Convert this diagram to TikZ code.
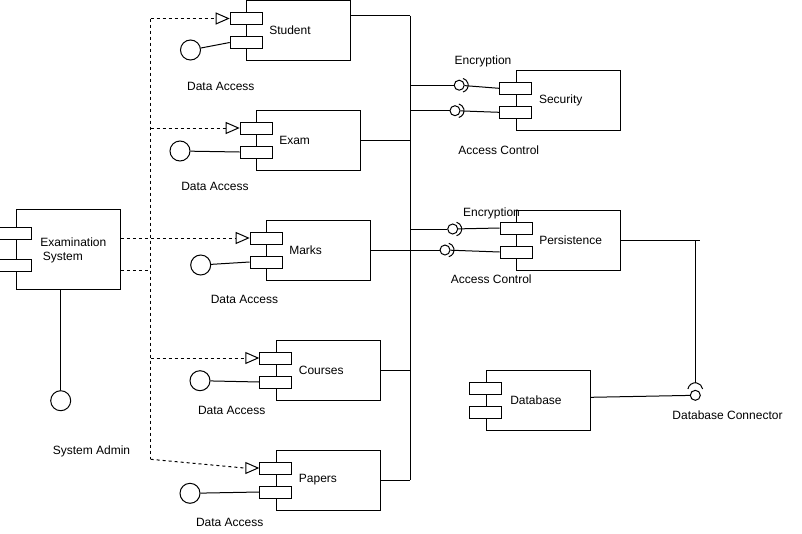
\documentclass[tikz,border=0pt]{standalone}
\usepackage{fontspec}
\setmainfont{Liberation Sans}
\usetikzlibrary{arrows.meta}
\begin{document}
\begin{tikzpicture}[x=1pt,y=1pt,line width=1pt,
  every node/.style={font=\fontsize{12}{14}\selectfont},
  comp/.style={draw,fill=white,minimum width=104pt,minimum height=60pt,inner sep=0pt},
  port/.style={draw,fill=white,minimum width=32pt,minimum height=12pt,inner sep=0pt},
  iface/.style={draw,circle,minimum size=20pt,inner sep=0pt},
  ball/.style={draw,circle,fill=white,minimum size=10pt,inner sep=0pt},
  txt/.style={inner sep=0pt},
  cname/.style={inner sep=0pt,anchor=west},
  dashline/.style={dash pattern=on 3pt off 3pt},
  dep/.style={dashline,-{Triangle[open,length=14pt,width=12pt]}},
]
\useasboundingbox (0,0) rectangle (802,-533);

% components
\node[comp] (stu) at (298.7,-30.5) {};
\node[comp] (exm) at (308.7,-140) {};
\node[comp] (mrk) at (318.7,-250) {};
\node[comp] (crs) at (328.3,-370) {};
\node[comp] (pap) at (328.3,-480) {};
\node[comp] (sec) at (568,-100.3) {};
\node[comp] (per) at (568.7,-240) {};
\node[comp] (dbs) at (538.3,-400) {};
\node[comp,minimum height=80pt] (es) at (68.3,-249) {};

% component ports
\foreach \c in {stu,exm,mrk,crs,pap,sec,per,dbs}{
  \node[port] (\c A) at ([yshift=12pt]\c.west) {};
  \node[port] (\c B) at ([yshift=-12pt]\c.west) {};
}
\node[port] (esA) at ([yshift=16pt]es.west) {};
\node[port] (esB) at ([yshift=-16pt]es.west) {};

% component names
\node[cname] at ([xshift=22.6pt]stu.west) {Student};
\node[cname] at ([xshift=22.6pt]exm.west) {Exam};
\node[cname] at ([xshift=22.6pt]mrk.west) {Marks};
\node[cname] at ([xshift=22.6pt]crs.west) {Courses};
\node[cname] at ([xshift=22.6pt]pap.west) {Papers};
\node[cname] at ([xshift=23pt]sec.west) {Security};
\node[cname] at ([xshift=22.6pt]per.west) {Persistence};
\node[cname] at ([xshift=24pt]dbs.west) {Database};
\node[cname,align=left] at ([xshift=24pt,yshift=-1.5pt]es.west) {Examination\\\hspace*{2.5pt}System};

% provided interfaces
\node[iface] (stuI) at (190.5,-50) {};
\node[iface] (exmI) at (180,-151) {};
\node[iface] (mrkI) at (200.7,-265) {};
\node[iface] (crsI) at (200,-380.7) {};
\node[iface] (papI) at (190,-493.3) {};
\node[iface] (adm) at (60.7,-400.7) {};
\draw (stuI) -- (stuB.west);
\draw (exmI) -- (exmB.west);
\draw (mrkI) -- (mrkB.west);
\draw (crsI) -- (crsB.west);
\draw (papI) -- (papB.west);
\draw (adm.north |- es.south) -- (adm.north);

% interface labels
\node[txt] at (220.8,-86) {Data Access};
\node[txt] at (215,-186.7) {Data Access};
\node[txt] at (244.5,-299) {Data Access};
\node[txt] at (231.7,-410.7) {Data Access};
\node[txt] at (229.7,-522.3) {Data Access};
\node[txt] at (91.5,-451) {System Admin};

% dependencies from the examination system
\coordinate (trT) at (150.7,-18.5);
\coordinate (trB) at (150.7,-459.3);
\coordinate (esD) at ([yshift=-21pt]es.east);
\draw[dashline] (trT) -- (trB);
\draw[dashline] (esD) -- (esD -| trT);
\draw[dep] (trT) -- (stuA.west);
\draw[dep] (exmA.west -| trT) -- (exmA.west);
\draw[dep] (es.east |- mrkA.west) -- (mrkA.west);
\draw[dep] (crsA.west -| trT) -- (crsA.west);
\draw[dep] (trB) -- ([xshift=-15pt]papA.west) -- (papA.west);

% assembly bus
\coordinate (busT) at (410,-15.5);
\coordinate (busB) at (410,-480);
\draw (busT) -- (busB);
\draw ([yshift=15pt]stu.east) -- (busT);
\draw (exm.east) -- (exm.east -| busT);
\draw (crs.east) -- (crs.east -| busT);
\draw (pap.east) -- (busB);

% required interfaces on security and persistence
\node[ball] (secE) at (459.2,-85.2) {};
\node[ball] (secC) at (455,-110.7) {};
\node[ball] (perE) at (452.7,-229) {};
\node[ball] (perC) at (445,-250) {};
\foreach \b in {secE,secC,perE,perC}
  \draw ([xshift=2pt]\b.center) ++(-75:7pt) arc[start angle=-75,end angle=75,radius=7pt];
\draw (secE.west -| busT) -- (secE);
\draw (secC.west -| busT) -- (secC);
\draw (perE.west -| busT) -- (perE);
\draw (mrk.east) -- (perC);
\draw (secE) -- (secA.west);
\draw (secC) -- (secB.west);
\draw (perE) -- (perA.west);
\draw (perC) -- (perB.west);
\node[txt] at (483,-61.3) {Encryption};
\node[txt] at (498.8,-150) {Access Control};
\node[txt] at (491.5,-213.2) {Encryption};
\node[txt] at (491.3,-279) {Access Control};

% database connector
\node[ball] (dbc) at (695.3,-395.3) {};
\draw ([yshift=5pt]dbc.center) ++(170:7.5pt) arc[start angle=170,end angle=10,radius=7.5pt];
\coordinate (dbcT) at ([yshift=12.5pt]dbc.center);
\coordinate (pj) at (700,-240);
\draw (per.east) -- (pj);
\draw (per.east -| dbcT) -- (dbcT);
\draw ([yshift=2.7pt]dbs.east) -- (dbc);
\node[txt] at (727.5,-415) {Database Connector};
\end{tikzpicture}
\end{document}
